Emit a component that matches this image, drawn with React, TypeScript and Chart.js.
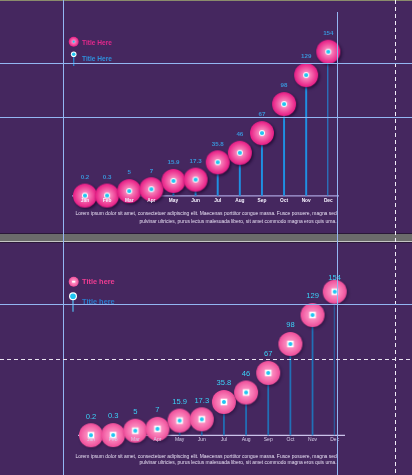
import React, { useEffect, useRef } from "react";
import { Chart, registerables } from "chart.js";
Chart.register(...registerables);

const months = ["Jan", "Feb", "Mar", "Apr", "May", "Jun", "Jul", "Aug", "Sep", "Oct", "Nov", "Dec"];
const values = [0.2, 0.3, 5, 7, 15.9, 17.3, 35.8, 46, 67, 98, 129, 154];
const valueLabels = ["0.2", "0.3", "5", "7", "15.9", "17.3", "35.8", "46", "67", "98", "129", "154"];
const legendTop = ["Title Here", "Title Here"];
const legendBottom = ["Title here", "Title here"];
const paragraph = [
  "Lorem ipsum dolor sit amet, consectetuer adipiscing elit. Maecenas porttitor congue massa. Fusce posuere, magna sed",
  "pulvinar ultricies, purus lectus malesuada libero, sit amet commodo magna eros quis urna.",
];
const yMin = 0;
const yMax = 154;

const BG = "#45275f";
const FONT = "'Liberation Sans', Arial, sans-serif";

type Panel = {
  top: number;
  height: number;
  padding: { left: number; right: number; top: number; bottom: number };
  bubble: { r: number; stops: [number, string][]; shadow: string; ring: number; dot: number; square: boolean };
  stickColor: string;
  stickWidth: number;
  axis: { x0: number; x1: number; color: string; width: number };
  valueFont: string;
  valueColor: string;
  valueOffset: number;
  valueMinY: number;
  monthFont: string;
  monthColor: string;
  monthY: number;
  legend: {
    texts: string[];
    font: string;
    pinkColor: string;
    blueColor: string;
    textX: number;
    textY: [number, number];
    circle: { x: number; y: number; r: number; dash: boolean };
    pin: { x: number; y: number; r: number; dot: number; stickEnd: number; stickColor: string };
  };
  para: { right: number; width: number; y: [number, number]; color: string };
};

const panels: Panel[] = [
  {
    top: 0,
    height: 234,
    padding: { left: 85, right: 412 - 328.3, top: 51.7, bottom: 234 - 195.8 },
    bubble: {
      r: 12,
      stops: [
        [0, "#fcb2d4"],
        [0.35, "#f679b6"],
        [0.75, "#ee3d96"],
        [1, "#e41c84"],
      ],
      shadow: "rgba(25,5,45,0.75)",
      ring: 3,
      dot: 2.1,
      square: false,
    },
    stickColor: "#1f90e2",
    stickWidth: 1.3,
    axis: { x0: 72, x1: 339, color: "#aaa2dc", width: 1.3 },
    valueFont: `bold 6.2px ${FONT}`,
    valueColor: "#3a92d6",
    valueOffset: 18.4,
    valueMinY: 0,
    monthFont: `bold 4.8px ${FONT}`,
    monthColor: "#f6f2ff",
    monthY: 200.7,
    legend: {
      texts: legendTop,
      font: `bold 6.6px ${FONT}`,
      pinkColor: "#e2288c",
      blueColor: "#2f90dc",
      textX: 82,
      textY: [42.8, 59.4],
      circle: { x: 73.7, y: 41.7, r: 5, dash: false },
      pin: { x: 73.7, y: 54.3, r: 2.8, dot: 1.8, stickEnd: 66, stickColor: "#2a86d0" },
    },
    para: { right: 336.7, width: 262, y: [214, 221.3], color: "#e6def2" },
  },
  {
    top: 241,
    height: 234,
    padding: { left: 91, right: 412 - 334.7, top: 291.7 - 241, bottom: 475 - 435.4 },
    bubble: {
      r: 12,
      stops: [
        [0, "#ffa4cf"],
        [0.55, "#f87ab5"],
        [1, "#ee4c99"],
      ],
      shadow: "rgba(25,5,45,0.45)",
      ring: 3.3,
      dot: 2,
      square: true,
    },
    stickColor: "#2170b6",
    stickWidth: 1.1,
    axis: { x0: 78, x1: 345, color: "#cbc3ea", width: 1.4 },
    valueFont: `7.6px ${FONT}`,
    valueColor: "#3bd2f8",
    valueOffset: 18.8,
    valueMinY: 278.3 - 241,
    monthFont: `5px ${FONT}`,
    monthColor: "#d8d0ea",
    monthY: 440 - 241,
    legend: {
      texts: legendBottom,
      font: `bold 7.4px ${FONT}`,
      pinkColor: "#f03d92",
      blueColor: "#2a7ccc",
      textX: 82,
      textY: [282.3 - 241, 301.7 - 241],
      circle: { x: 73.7, y: 281.7 - 241, r: 5, dash: true },
      pin: { x: 73, y: 296.3 - 241, r: 4, dot: 2.8, stickEnd: 311.7 - 241, stickColor: "#52b2ea" },
    },
    para: { right: 336.7, width: 262, y: [456.7 - 241, 463 - 241], color: "#e6def2" },
  },
];

function makeBubble(b: Panel["bubble"]): HTMLCanvasElement {
  const size = 36;
  const c = document.createElement("canvas");
  c.width = size;
  c.height = size;
  const ctx = c.getContext("2d")!;
  const cx = size / 2;
  const cy = size / 2;
  ctx.save();
  ctx.shadowColor = b.shadow;
  ctx.shadowBlur = 3;
  ctx.shadowOffsetX = 1.5;
  ctx.shadowOffsetY = 1.5;
  const g = ctx.createRadialGradient(cx, cy, 0, cx, cy, b.r);
  b.stops.forEach(([o, col]) => g.addColorStop(o, col));
  ctx.fillStyle = g;
  ctx.beginPath();
  ctx.arc(cx, cy, b.r, 0, Math.PI * 2);
  ctx.fill();
  ctx.restore();
  ctx.fillStyle = "#ffffff";
  if (b.square) {
    ctx.fillRect(cx - b.ring, cy - b.ring, b.ring * 2, b.ring * 2);
  } else {
    ctx.beginPath();
    ctx.arc(cx, cy, b.ring, 0, Math.PI * 2);
    ctx.fill();
  }
  ctx.fillStyle = "#1ec6f2";
  ctx.beginPath();
  ctx.arc(cx, cy, b.dot, 0, Math.PI * 2);
  ctx.fill();
  return c;
}

function decorPlugin(p: Panel) {
  return {
    id: "decor",
    beforeDatasetsDraw(chart: any) {
      const ctx = chart.ctx as CanvasRenderingContext2D;
      const y0 = chart.scales.y.getPixelForValue(0);
      ctx.save();
      ctx.strokeStyle = p.axis.color;
      ctx.lineWidth = p.axis.width;
      ctx.beginPath();
      ctx.moveTo(p.axis.x0, y0);
      ctx.lineTo(p.axis.x1, y0);
      ctx.stroke();
      ctx.restore();
    },
    afterDatasetsDraw(chart: any) {
      const ctx = chart.ctx as CanvasRenderingContext2D;
      const xs = chart.scales.x;
      const ys = chart.scales.y;
      ctx.save();
      ctx.textAlign = "center";
      ctx.textBaseline = "middle";
      ctx.font = p.monthFont;
      ctx.fillStyle = p.monthColor;
      months.forEach((m, i) => ctx.fillText(m, xs.getPixelForValue(i), p.monthY));
      ctx.font = p.valueFont;
      ctx.fillStyle = p.valueColor;
      values.forEach((v, i) => {
        const y = Math.max(ys.getPixelForValue(v) - p.valueOffset, p.valueMinY);
        ctx.fillText(valueLabels[i], xs.getPixelForValue(i), y);
      });
      const L = p.legend;
      const c = L.circle;
      const g = ctx.createRadialGradient(c.x, c.y, 0, c.x, c.y, c.r);
      p.bubble.stops.forEach(([o, col]) => g.addColorStop(o, col));
      ctx.fillStyle = g;
      ctx.beginPath();
      ctx.arc(c.x, c.y, c.r, 0, Math.PI * 2);
      ctx.fill();
      if (c.dash) {
        ctx.fillStyle = "#ffffff";
        ctx.fillRect(c.x - 1.6, c.y - 0.9, 3.2, 1.8);
      } else {
        ctx.fillStyle = "#1ec6f2";
        ctx.beginPath();
        ctx.arc(c.x, c.y, 1.1, 0, Math.PI * 2);
        ctx.fill();
      }
      const pin = L.pin;
      ctx.strokeStyle = pin.stickColor;
      ctx.lineWidth = 1.3;
      ctx.beginPath();
      ctx.moveTo(pin.x, pin.y);
      ctx.lineTo(pin.x, pin.stickEnd);
      ctx.stroke();
      ctx.fillStyle = "#ffffff";
      ctx.beginPath();
      ctx.arc(pin.x, pin.y, pin.r, 0, Math.PI * 2);
      ctx.fill();
      ctx.fillStyle = "#1ec6f2";
      ctx.beginPath();
      ctx.arc(pin.x, pin.y, pin.dot, 0, Math.PI * 2);
      ctx.fill();
      ctx.textAlign = "left";
      ctx.font = L.font;
      ctx.fillStyle = L.pinkColor;
      ctx.fillText(L.texts[0], L.textX, L.textY[0]);
      ctx.fillStyle = L.blueColor;
      ctx.fillText(L.texts[1], L.textX, L.textY[1]);
      ctx.font = `10px ${FONT}`;
      const w = ctx.measureText(paragraph[0]).width;
      const size = (10 * p.para.width) / w;
      ctx.font = `${size}px ${FONT}`;
      ctx.textAlign = "right";
      ctx.fillStyle = p.para.color;
      paragraph.forEach((line, i) => ctx.fillText(line, p.para.right, p.para.y[i]));
      ctx.restore();
    },
  };
}

function PanelChart({ panel }: { panel: Panel }) {
  const ref = useRef<HTMLCanvasElement | null>(null);
  useEffect(() => {
    if (!ref.current) return;
    const img = makeBubble(panel.bubble);
    const chart = new Chart(ref.current, {
      type: "bar",
      data: {
        labels: months,
        datasets: [
          {
            type: "line",
            data: values,
            showLine: false,
            pointStyle: img,
            pointRadius: 12,
            pointHoverRadius: 12,
            backgroundColor: "transparent",
            borderColor: "transparent",
            clip: false,
            order: 1,
          } as any,
          {
            type: "bar",
            data: values,
            backgroundColor: panel.stickColor,
            barThickness: panel.stickWidth,
            borderWidth: 0,
            order: 2,
          } as any,
        ],
      },
      options: {
        animation: false,
        responsive: false,
        events: [],
        layout: { padding: panel.padding },
        plugins: { legend: { display: false }, tooltip: { enabled: false } },
        scales: {
          x: { display: false, offset: false },
          y: { display: false, min: yMin, max: yMax },
        },
      },
      plugins: [decorPlugin(panel)],
    });
    return () => chart.destroy();
  }, [panel]);
  return (
    <canvas
      ref={ref}
      width={412}
      height={panel.height}
      style={{ position: "absolute", left: 0, top: panel.top, width: 412, height: panel.height }}
    />
  );
}

const guide = "#93b6f2";
const dashV = "repeating-linear-gradient(to bottom, #f2eef8 0 4px, transparent 4px 7px)";
const dashH = "repeating-linear-gradient(to right, #e8e2f0 0 4px, transparent 4px 7px)";

export default function App() {
  return (
    <div
      style={{
        position: "absolute",
        left: 0,
        top: 0,
        width: 412,
        height: 475,
        background: BG,
        overflow: "hidden",
      }}
    >
      <div style={{ position: "absolute", left: 0, top: 0, width: 412, height: 1, background: "#8a8c6c" }} />
      <PanelChart panel={panels[0]} />
      <div style={{ position: "absolute", left: 0, top: 233, width: 412, height: 1, background: "#2a1838" }} />
      <div style={{ position: "absolute", left: 0, top: 234, width: 412, height: 7, background: "#6b6b6b" }} />
      <div style={{ position: "absolute", left: 0, top: 241, width: 412, height: 1, background: "#c4c4c4" }} />
      <div style={{ position: "absolute", left: 0, top: 242, width: 412, height: 1, background: "#2a1838" }} />
      <PanelChart panel={panels[1]} />
      <div style={{ position: "absolute", left: 63, top: 0, width: 1, height: 475, background: guide }} />
      <div style={{ position: "absolute", left: 337, top: 12, width: 1, height: 463, background: guide }} />
      <div style={{ position: "absolute", left: 395, top: 0, width: 1, height: 475, background: dashV }} />
      <div style={{ position: "absolute", left: 0, top: 63, width: 412, height: 1, background: guide }} />
      <div style={{ position: "absolute", left: 0, top: 117, width: 412, height: 1, background: guide }} />
      <div style={{ position: "absolute", left: 0, top: 304, width: 412, height: 1, background: guide }} />
      <div style={{ position: "absolute", left: 0, top: 359, width: 412, height: 1, background: dashH }} />
    </div>
  );
}
